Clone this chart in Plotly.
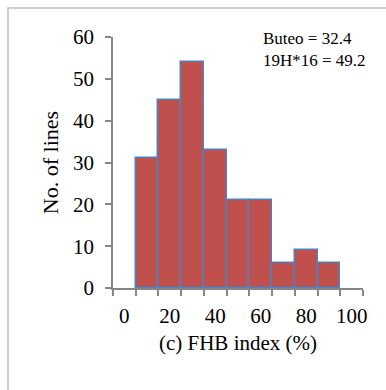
import plotly.graph_objects as go

bin_centers = [10, 20, 30, 40, 50, 60, 70, 80, 90]
counts = [31, 45, 54, 33, 21, 21, 6, 9, 6]
x_tick_vals = [0, 20, 40, 60, 80, 100]
x_boundaries = [-5, 5, 15, 25, 35, 45, 55, 65, 75, 85, 95, 105]
y_tick_vals = [0, 10, 20, 30, 40, 50, 60]
note_lines = ["Buteo = 32.4", "19H*16 = 49.2"]

FONT = "Liberation Serif, Times New Roman, serif"
AXIS = "#868686"

fig = go.Figure()
fig.add_trace(go.Bar(
    x=bin_centers, y=counts, width=10,
    marker=dict(color="#C0504D", line=dict(color="#4F81BD", width=1.5)),
    showlegend=False,
))

fig.update_layout(
    width=386, height=390,
    margin=dict(l=113, r=23, t=37, b=102),
    paper_bgcolor="white", plot_bgcolor="white",
    font=dict(family=FONT, color="black"),
    bargap=0,
    xaxis=dict(
        range=[-5, 105], tickmode="array", tickvals=x_tick_vals,
        ticks="", showgrid=False, zeroline=False,
        showline=True, linecolor=AXIS, linewidth=1.5,
        tickfont=dict(size=21), ticklabelstandoff=8,
        minor=dict(tickmode="array", tickvals=x_boundaries, ticks="outside",
                   ticklen=6, tickwidth=1.5, tickcolor=AXIS, showgrid=False),
        title=dict(text="(c) FHB index (%)", font=dict(size=21), standoff=8),
    ),
    yaxis=dict(
        range=[0, 60], tickmode="array", tickvals=y_tick_vals,
        ticks="outside", ticklen=6, tickwidth=1.5, tickcolor=AXIS,
        showgrid=False, zeroline=False,
        showline=True, linecolor=AXIS, linewidth=1.5,
        tickfont=dict(size=21), ticklabelstandoff=7,
        title=dict(text="No. of lines", font=dict(size=22), standoff=8),
    ),
    annotations=[dict(
        xref="paper", yref="paper", x=0.59, y=1.04, xanchor="left", yanchor="top",
        text="<br>".join(note_lines), align="left", showarrow=False,
        font=dict(size=17, family=FONT),
    )],
    shapes=[dict(
        type="rect", xref="paper", yref="paper",
        x0=(8 - 113) / 250, x1=(392 - 113) / 250,
        y0=(288 - 395) / 251, y1=1 + (37 - 8) / 251,
        line=dict(color="#BFBFBF", width=1.5), layer="below",
    )],
)

fig.write_html("out.html")
